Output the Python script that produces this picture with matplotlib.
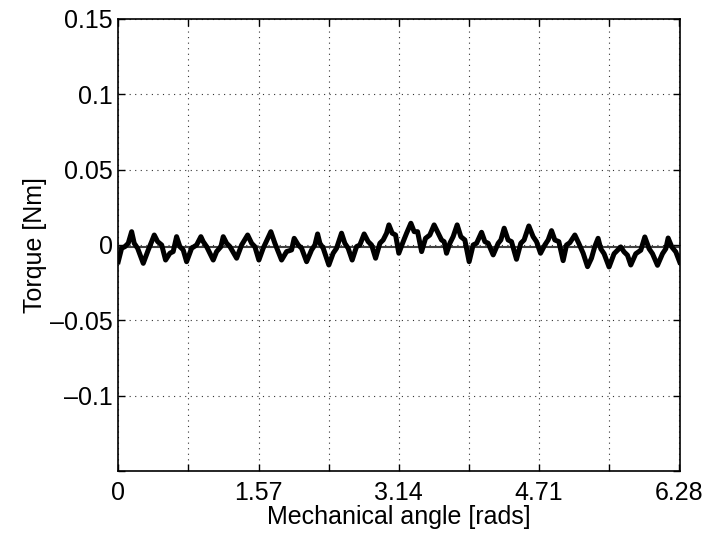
import numpy as np
import matplotlib.pyplot as plt

plt.rcParams['font.family'] = ['Liberation Sans', 'DejaVu Sans']

angle = [0.000, 0.038, 0.075, 0.112, 0.150, 0.179, 0.217, 0.280, 0.336, 0.374,
         0.403, 0.441, 0.486, 0.530, 0.578, 0.615, 0.653, 0.690, 0.727, 0.765,
         0.821, 0.877, 0.925, 0.951, 0.989, 1.063, 1.101, 1.149, 1.175, 1.213,
         1.250, 1.325, 1.381, 1.448, 1.493, 1.529, 1.574, 1.622, 1.708, 1.753,
         1.828, 1.884, 1.940, 1.969, 2.014, 2.052, 2.108, 2.164, 2.201, 2.231,
         2.257, 2.294, 2.357, 2.405, 2.443, 2.499, 2.536, 2.573, 2.618, 2.667,
         2.704, 2.752, 2.797, 2.835, 2.880, 2.928, 2.965, 3.003, 3.029, 3.066,
         3.104, 3.140, 3.189, 3.227, 3.275, 3.312, 3.350, 3.395, 3.439, 3.487,
         3.535, 3.580, 3.618, 3.647, 3.674, 3.711, 3.748, 3.793, 3.834, 3.879,
         3.927, 3.972, 4.010, 4.066, 4.103, 4.140, 4.196, 4.252, 4.282, 4.319,
         4.363, 4.401, 4.457, 4.505, 4.542, 4.595, 4.643, 4.681, 4.726, 4.774,
         4.811, 4.849, 4.886, 4.931, 4.979, 5.017, 5.054, 5.110, 5.154, 5.203,
         5.252, 5.296, 5.333, 5.370, 5.400, 5.437, 5.493, 5.549, 5.587, 5.624,
         5.661, 5.699, 5.736, 5.792, 5.848, 5.893, 5.941, 5.979, 6.035, 6.091,
         6.128, 6.154, 6.195, 6.240, 6.283]

torque = [-0.0111, -0.0022, -0.0011, 0.0011, 0.0088, 0.0011, -0.0022, -0.0122, -0.0033, 0.0022,
          0.0066, 0.0022, 0.0000, -0.0100, -0.0055, -0.0044, 0.0055, -0.0011, -0.0033, -0.0111,
          -0.0022, 0.0000, 0.0055, 0.0022, -0.0011, -0.0100, -0.0044, -0.0011, 0.0055, 0.0011,
          -0.0011, -0.0088, 0.0000, 0.0066, 0.0011, -0.0011, -0.0100, -0.0022, 0.0088, 0.0011,
          -0.0100, -0.0044, -0.0033, 0.0044, 0.0000, -0.0022, -0.0111, -0.0033, 0.0000, 0.0073,
          0.0011, -0.0022, -0.0133, -0.0055, -0.0022, 0.0078, 0.0011, -0.0022, -0.0100, -0.0011,
          0.0000, 0.0073, 0.0022, 0.0000, -0.0088, 0.0011, 0.0033, 0.0078, 0.0133, 0.0078,
          0.0066, -0.0055, 0.0022, 0.0078, 0.0144, 0.0088, 0.0088, -0.0044, 0.0044, 0.0066,
          0.0133, 0.0078, 0.0033, 0.0022, -0.0055, 0.0011, 0.0055, 0.0133, 0.0055, 0.0033,
          -0.0111, 0.0000, 0.0011, 0.0084, 0.0022, 0.0011, -0.0066, 0.0011, 0.0033, 0.0111,
          0.0033, 0.0022, -0.0095, 0.0011, 0.0033, 0.0126, 0.0055, 0.0022, -0.0055, 0.0000,
          0.0033, 0.0095, 0.0033, 0.0022, -0.0104, 0.0000, 0.0015, 0.0066, 0.0011, -0.0055,
          -0.0144, -0.0088, -0.0011, 0.0044, -0.0025, -0.0058, -0.0146, -0.0058, -0.0035, -0.0013,
          -0.0046, -0.0068, -0.0133, -0.0058, -0.0035, 0.0053, -0.0025, -0.0058, -0.0135, -0.0058,
          -0.0025, 0.0046, -0.0013, -0.0046, -0.0113]

mean_torque = -0.0012

xticks = [0, 0.785, 1.57, 2.355, 3.14, 3.925, 4.71, 5.495, 6.28]
xticklabels = ['0', '', '1.57', '', '3.14', '', '4.71', '', '6.28']
yticks = [-0.15, -0.1, -0.05, 0, 0.05, 0.1, 0.15]
yticklabels = ['', '\u20130.1', '\u20130.05', '0', '0.05', '0.1', '0.15']

fig = plt.figure(figsize=(7.08, 5.36), dpi=100)
ax = fig.add_axes([0.167, 0.121, 0.793, 0.844])

ax.plot([0, 6.2832], [mean_torque, mean_torque], color='#404040', lw=1.5)
ax.plot(angle, torque, color='black', lw=3.6, solid_joinstyle='round')

ax.set_xlim(0, 6.2832)
ax.set_ylim(-0.15, 0.15)
ax.set_xticks(xticks)
ax.set_xticklabels(xticklabels)
ax.set_yticks(yticks)
ax.set_yticklabels(yticklabels)
ax.tick_params(direction='in', top=True, right=True, labelsize=18, length=5, width=1)
ax.tick_params(axis='x', pad=7)
ax.tick_params(axis='y', pad=4)
ax.grid(True, linestyle=(0, (1, 4)), color='#333333', lw=0.8)
for s in ax.spines.values():
    s.set_linewidth(1.2)

ax.set_xlabel('Mechanical angle [rads]', fontsize=18, labelpad=0)
ax.set_ylabel('Torque [Nm]', fontsize=18, labelpad=2)

fig.savefig('out.png', dpi=100)
